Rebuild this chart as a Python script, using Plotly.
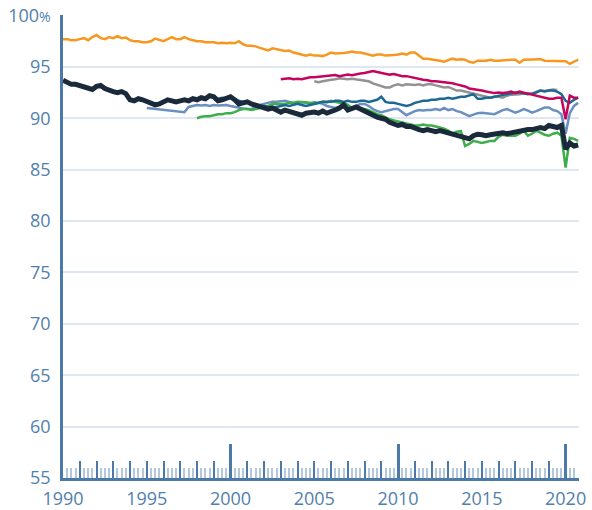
import plotly.graph_objects as go

# Quarterly series (decimal-year start, one value per quarter)
navy_start = 1990.0
navy = [
    93.7, 93.5, 93.3, 93.3,  93.2, 93.1, 92.9, 92.8,  93.1, 93.2, 92.9, 92.7,
    92.6, 92.5, 92.6, 92.4,  91.8, 91.7, 91.9, 91.8,  91.6, 91.4, 91.3, 91.4,
    91.6, 91.8, 91.7, 91.6,  91.7, 91.8, 91.7, 91.9,  91.8, 92.0, 91.9, 92.2,
    92.1, 91.7, 91.8, 91.9,  92.1, 91.8, 91.4, 91.5,  91.6, 91.4, 91.3, 91.2,
    91.1, 90.9, 91.0, 90.8,  90.6, 90.8, 90.7, 90.5,  90.4, 90.3, 90.5, 90.6,
    90.6, 90.5, 90.7, 90.5,  90.6, 90.8, 91.0, 91.3,  90.8, 90.9, 91.1, 90.9,
    90.7, 90.4, 90.3, 90.1,  90.0, 89.9, 89.6, 89.4,  89.3, 89.4, 89.2, 89.2,
    89.0, 88.9, 88.8, 88.9,  88.8, 88.7, 88.8, 88.7,  88.5, 88.4, 88.3, 88.3,
    88.2, 88.0, 88.3, 88.45, 88.4, 88.3, 88.4, 88.5,  88.5, 88.6, 88.5, 88.6,
    88.6, 88.7, 88.8, 88.9,  88.9, 89.0, 89.1, 89.0,  89.3, 89.2, 89.1, 89.3,
    87.0, 87.6, 87.3, 87.4,
]

orange_start = 1990.0
orange = [
    97.7, 97.7, 97.6, 97.6,  97.7, 97.8, 97.6, 97.9,  98.1, 97.8, 97.7, 97.9,
    97.8, 98.0, 97.8, 97.85, 97.6, 97.5, 97.5, 97.4,  97.4, 97.5, 97.75, 97.6,
    97.5, 97.7, 97.9, 97.7,  97.7, 97.9, 97.7, 97.6,  97.5, 97.5, 97.4, 97.4,
    97.4, 97.3, 97.35, 97.3, 97.35, 97.3, 97.5, 97.2, 97.05, 97.05, 97.0, 96.85,
    96.7, 96.6, 96.8, 96.7,  96.6, 96.55, 96.6, 96.4, 96.3, 96.2, 96.1, 96.2,
    96.1, 96.1, 96.05, 96.2, 96.4, 96.3, 96.3, 96.35, 96.4, 96.5, 96.4, 96.4,
    96.3, 96.2, 96.1, 96.2,  96.2, 96.1, 96.1, 96.15, 96.2, 96.3, 96.2, 96.4,
    96.4, 96.1, 95.8, 95.8,  95.75, 95.7, 95.6, 95.5, 95.65, 95.8, 95.7, 95.75,
    95.7, 95.5, 95.4, 95.6,  95.6, 95.6, 95.7, 95.6,  95.6, 95.65, 95.7, 95.7,
    95.7, 95.4, 95.7, 95.7,  95.7, 95.7, 95.75, 95.6, 95.6, 95.6, 95.6, 95.6,
    95.55, 95.3, 95.5, 95.7,
]

steel_start = 1995.0
steel = [
    91.0, 90.95, 90.9, 90.9,  90.85, 90.8, 90.7, 90.7,  90.65, 90.6, 91.1, 91.2,
    91.3, 91.25, 91.3, 91.2,  91.3, 91.25, 91.3, 91.3,  91.2, 91.1, 91.0, 90.95,
    90.9, 90.9, 91.1, 91.3,   91.4, 91.5, 91.6, 91.6,   91.65, 91.7, 91.6, 91.5,
    91.5, 91.55, 91.5, 91.45, 91.4, 91.5, 91.4, 91.2,   91.1, 91.0, 91.05, 91.0,
    91.0, 91.0, 91.2, 91.4,   91.4, 91.2, 90.9, 90.7,   90.6, 90.7, 90.8, 90.9,
    90.9, 90.6, 90.3, 90.5,   90.7, 90.8, 90.75, 90.8,  90.8, 90.9, 90.8, 91.0,
    90.8, 90.9, 90.7, 90.6,   90.4, 90.2, 90.35, 90.5,  90.55, 90.5, 90.4, 90.4,
    90.6, 90.8, 90.9, 90.7,   90.55, 90.7, 90.9, 90.75, 90.55, 90.7, 90.9, 91.05,
    91.05, 90.8, 90.7, 90.4,  88.5, 90.5, 91.2, 91.5,
]

green_start = 1998.0
green = [
    90.0, 90.15, 90.2, 90.2,  90.3, 90.4, 90.4, 90.5,  90.5, 90.6, 90.8, 90.9,
    90.9, 90.8, 90.9, 91.0,   91.1, 91.2, 91.4, 91.4,  91.4, 91.4, 91.5, 91.5,
    91.6, 91.6, 91.55, 91.5,  91.55, 91.5, 91.6, 91.55, 91.7, 91.6, 91.5, 91.5,
    91.3, 91.0, 91.0, 90.9,   90.9, 90.8, 90.6, 90.4,  90.3, 90.1, 89.9, 89.8,
    89.7, 89.6, 89.5, 89.4,   89.3, 89.3, 89.4, 89.3,  89.3, 89.2, 89.1, 89.0,
    88.8, 88.5, 88.7, 88.75,  87.3, 87.5, 87.8, 87.7,  87.6, 87.7, 87.8, 87.8,
    88.2, 88.4, 88.3, 88.3,   88.3, 88.5, 88.8, 88.3,  88.5, 88.8, 88.6, 88.4,
    88.3, 88.5, 88.6, 88.3,   85.2, 88.1, 88.0, 87.8,
]

teal_start = 1999.0
teal = [
    91.8, 91.9, 92.0, 91.9,  92.0, 91.9, 91.7, 91.6,  91.5, 91.4, 91.3, 91.2,
    91.2, 91.1, 91.0, 91.1,  91.2, 91.3, 91.2, 91.3,  91.4, 91.3, 91.2, 91.3,
    91.4, 91.5, 91.6, 91.6,  91.6, 91.7, 91.7, 91.6,  91.7, 91.6, 91.6, 91.7,
    91.7, 91.6, 91.7, 91.8,  92.1, 91.6, 91.5, 91.5,  91.4, 91.3, 91.2, 91.3,
    91.5, 91.6, 91.7, 91.7,  91.8, 91.8, 91.9, 91.9,  92.0, 91.9, 92.0, 92.1,
    92.1, 92.2, 92.35, 91.9, 91.9, 92.0, 92.0, 92.1,  92.2, 92.3, 92.35, 92.4,
    92.5, 92.5, 92.4, 92.35, 92.4, 92.5, 92.7, 92.6,  92.7, 92.7, 92.6, 92.35,
    91.7, 91.5, 91.8, 92.0,
]

magenta_start = 2003.0
magenta = [
    93.8, 93.85, 93.9, 93.8,  93.85, 93.8, 93.9, 94.0,  94.0, 94.05, 94.1, 94.1,
    94.15, 94.2, 94.1, 94.2,  94.25, 94.2, 94.3, 94.35, 94.4, 94.5, 94.6, 94.5,
    94.4, 94.3, 94.25, 94.3,  94.2, 94.1, 94.1, 94.0,   93.9, 93.8, 93.75, 93.7,
    93.6, 93.6, 93.55, 93.5,  93.5, 93.4, 93.3, 93.2,   93.1, 92.9, 92.85, 92.8,
    92.7, 92.6, 92.55, 92.45, 92.5, 92.45, 92.5, 92.6,  92.45, 92.6, 92.5, 92.4,
    92.3, 92.2, 92.1, 92.0,   91.9, 91.9, 92.0, 92.0,   89.9, 92.2, 92.0, 92.0,
]

gray_start = 2005.0
gray = [
    93.6, 93.5, 93.6, 93.7,  93.75, 93.8, 93.9, 93.85,  93.8, 93.85, 93.8, 93.7,
    93.65, 93.6, 93.4, 93.25, 93.1, 93.0, 93.0, 93.2,   93.3, 93.2, 93.3, 93.25,
    93.25, 93.3, 93.2, 93.3,  93.3, 93.2, 93.1, 93.0,   93.05, 92.9, 92.7, 92.7,
    92.6, 92.5, 92.4, 92.35,  92.2, 92.1, 92.0, 92.1,   92.1, 92.0, 92.2, 92.3,
    92.3, 92.35, 92.4, 92.4,  92.4, 92.6, 92.7, 92.65,  92.75, 92.8, 92.75,
]

y_tick_vals = [55, 60, 65, 70, 75, 80, 85, 90, 95, 100]
y_tick_text = ["55", "60", "65", "70", "75", "80", "85", "90", "95",
               "100<span style='font-size:14px'>%</span>"]
year_ticks = list(range(1990, 2021))
year_labels = [str(y) if y % 5 == 0 else "" for y in year_ticks]
decade_ticks = [2000, 2010, 2020]

AX = "#4d79a8"
LABEL = "#5180ae"
GRID = "#dfe8f2"
MINOR = "#b3c7dd"


def qx(start, vals):
    return [start + 0.25 * i for i in range(len(vals))]


series = [
    ("gray", gray_start, gray, "#929292", 2.5),
    ("steel", steel_start, steel, "#6a8fc1", 2.5),
    ("green", green_start, green, "#3dae4a", 2.5),
    ("teal", teal_start, teal, "#1d6895", 2.5),
    ("magenta", magenta_start, magenta, "#c5045b", 2.5),
    ("orange", orange_start, orange, "#f7971f", 2.5),
    ("navy", navy_start, navy, "#1a2a3b", 5),
]

fig = go.Figure()
for name, st, vals, col, w in series:
    fig.add_trace(go.Scatter(x=qx(st, vals), y=vals, mode="lines", name=name,
                             line=dict(color=col, width=w), hoverinfo="skip"))

# invisible trace for the decade-tick overlay axis
fig.add_trace(go.Scatter(x=[1990, 2020], y=[55, 55], xaxis="x2", mode="lines",
                         line=dict(width=0), showlegend=False, hoverinfo="skip"))

minor_vals = [1990 + 0.25 * i for i in range(0, 124) if i % 4 != 0]

fig.update_layout(
    width=592, height=510,
    margin=dict(l=63, r=13, t=15, b=32, autoexpand=False),
    paper_bgcolor="white", plot_bgcolor="white",
    showlegend=False,
    font=dict(family="Open Sans", size=18, color=LABEL),
    xaxis=dict(
        range=[1990, 2020.8], automargin=False,
        tickmode="array", tickvals=year_ticks, ticktext=year_labels,
        ticks="inside", ticklen=17, tickwidth=1.8, tickcolor=AX,
        showline=True, linecolor=AX, linewidth=2.5,
        showgrid=False, zeroline=False,
        ticklabelstandoff=3,
        tickfont=dict(size=18, color=LABEL),
        minor=dict(tickmode="array", tickvals=minor_vals, ticks="inside",
                   ticklen=10, tickwidth=1.8, tickcolor=MINOR, showgrid=False),
    ),
    xaxis2=dict(
        overlaying="x", matches="x", anchor="y", side="bottom", automargin=False,
        tickmode="array", tickvals=decade_ticks,
        ticks="inside", ticklen=34, tickwidth=2.6, tickcolor=AX,
        showticklabels=False, showline=False, showgrid=False, zeroline=False,
    ),
    yaxis=dict(
        range=[55, 100.05], automargin=False,
        tickmode="array", tickvals=y_tick_vals, ticktext=y_tick_text,
        showline=True, linecolor=AX, linewidth=2.5,
        showgrid=True, gridcolor=GRID, gridwidth=1.6,
        zeroline=False, ticks="",
        ticklabelstandoff=6,
        tickfont=dict(size=18, color=LABEL),
    ),
)

fig.write_html("out.html", config={"displayModeBar": False},
               post_script="document.body.style.margin='0';document.body.style.overflow='hidden';")
